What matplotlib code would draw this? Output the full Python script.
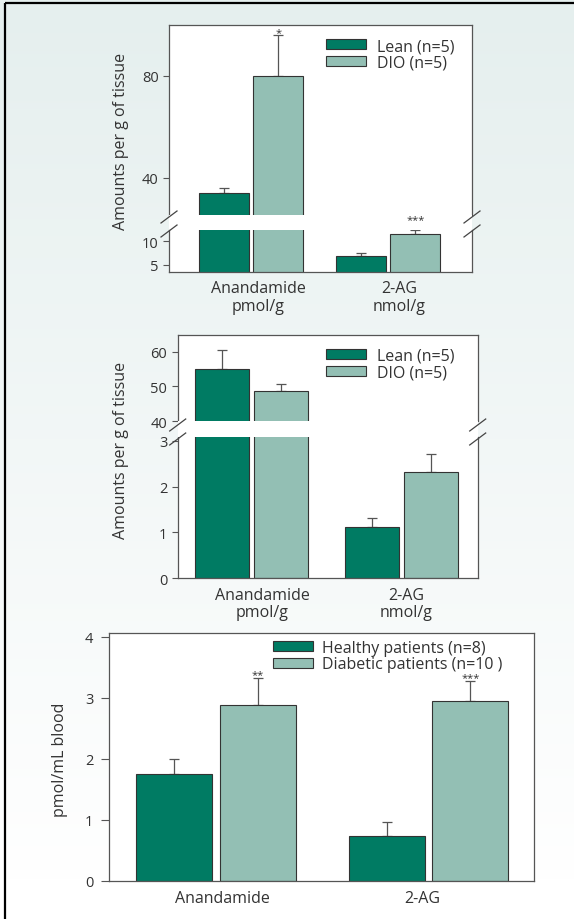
import matplotlib
matplotlib.use("Agg")
import matplotlib.pyplot as plt
import numpy as np
from matplotlib.lines import Line2D
from matplotlib.patches import Rectangle

plt.rcParams["font.family"] = ["Open Sans", "DejaVu Sans"]

W, H = 574, 920

compounds = ["Anandamide", "2-AG"]
tissue_units = ["pmol/g", "nmol/g"]
obese_labels = ["Lean (n=5)", "DIO (n=5)"]
patient_labels = ["Healthy patients (n=8)", "Diabetic patients (n=10 )"]

# top panel
top_lean = [33.9, 6.9]
top_lean_err = [2.1, 0.65]
top_dio = [80.0, 11.6]
top_dio_err = [16.0, 0.8]
top_stars = ["*", "***"]

# middle panel
mid_lean = [55.1, 1.11]
mid_lean_err = [5.4, 0.2]
mid_dio = [48.6, 2.32]
mid_dio_err = [2.2, 0.38]

# bottom panel (blood)
bot_healthy = [1.745, 0.733]
bot_healthy_err = [0.255, 0.235]
bot_diabetic = [2.88, 2.95]
bot_diabetic_err = [0.44, 0.32]
bot_stars = ["**", "***"]

DARK = "#007b63"
LIGHT = "#93bfb4"
EDGE = "#333333"
SPINE = "#555555"
TEXT = "#333333"


def frect(x0, y0, x1, y1):
    return [x0 / W, 1 - y1 / H, (x1 - x0) / W, (y1 - y0) / H]


def style_axes(ax, length=4.5, pad=3, xpad=6):
    for s in ax.spines.values():
        s.set_color(SPINE)
        s.set_linewidth(0.9)
    ax.tick_params(axis="y", direction="out", length=length, width=0.8,
                   color=SPINE, labelcolor=TEXT, labelsize=10.5, pad=pad)
    ax.tick_params(axis="x", length=0, labelcolor=TEXT, labelsize=11.5, pad=xpad)
    ax.set_facecolor("white")


def draw_pairs(ax, v1, e1, v2, e2, width, off=0.197):
    x = np.arange(len(v1))
    b1 = ax.bar(x - off, v1, width, color=DARK, edgecolor=EDGE, linewidth=0.8, zorder=2)
    b2 = ax.bar(x + off, v2, width, color=LIGHT, edgecolor=EDGE, linewidth=0.8, zorder=2)
    for xs, v, e in ((x - off, v1, e1), (x + off, v2, e2)):
        ax.errorbar(xs, v, yerr=[np.zeros(len(e)), e], fmt="none", ecolor="#555555",
                    elinewidth=0.9, capsize=3.5, capthick=0.9, zorder=1)
    return b1, b2


def add_stars(ax, xs, tops, stars, offsets):
    for x, t, s, dy in zip(xs, tops, stars, offsets):
        ax.annotate(s, xy=(x, t), xytext=(0, dy), textcoords="offset points",
                    ha="center", va="baseline", fontsize=8, color=TEXT,
                    annotation_clip=False, zorder=5)


def broken_marks(fig, xl, xr, yc):
    for x in (xl, xr):
        for y in (yc - 7, yc + 7):
            fig.add_artist(Line2D([(x - 8) / W, (x + 8) / W],
                                  [1 - (y + 6) / H, 1 - (y - 6) / H],
                                  color="#444444", lw=0.9, zorder=10))


def legend(ax, handles, labels, x, y, textpad=0.7):
    ax.legend(handles, labels, loc="upper left", bbox_to_anchor=(x / W, 1 - y / H),
              bbox_transform=fig.transFigure, frameon=False, fontsize=11.5,
              handlelength=2.5, handleheight=0.6, handletextpad=textpad,
              labelspacing=0.02, borderpad=0, borderaxespad=0, labelcolor=TEXT)


fig = plt.figure(figsize=(W / 100, H / 100), dpi=100)

# background gradient
bg = fig.add_axes([0, 0, 1, 1], zorder=-10)
bg.axis("off")
rows = np.arange(H)
t = np.clip(rows / 880.0, 0, 1)[:, None]
topc = np.array([229, 239, 238]) / 255.0
grad = topc * (1 - t) + np.ones(3) * t
bg.imshow(grad[:, None, :], aspect="auto", extent=[0, 1, 0, 1])
fig.add_artist(Line2D([5 / W, 5 / W], [1 - 4 / H, 0], color="black", lw=1.6,
                      solid_capstyle="butt"))
fig.add_artist(Line2D([5 / W, 1.01], [1 - 4 / H, 1 - 4 / H], color="black", lw=1.6,
                      solid_capstyle="butt"))

# ---------- top panel ----------
x0, x1 = 169, 472
ax1u = fig.add_axes(frect(x0, 25.7, x1, 216))
ax1l = fig.add_axes(frect(x0, 230.7, x1, 273))
ax1l.set_zorder(1)
for ax in (ax1u, ax1l):
    style_axes(ax)
    hb = draw_pairs(ax, top_lean, top_lean_err, top_dio, top_dio_err, 0.365)
    ax.set_xlim(-0.60, 1.61)
ax1u.set_ylim(25.4, 100)
ax1u.set_yticks([40, 80])
ax1u.set_xticks([])
ax1u.spines["bottom"].set_visible(False)
ax1l.set_ylim(3.44, 12.5)
ax1l.set_yticks([5, 10])
ax1l.spines["top"].set_visible(False)
ax1l.set_xticks([0.05, 1.08], [f"{c}\n{u}" for c, u in zip(compounds, tissue_units)],
                linespacing=1.15)
fig.add_artist(Rectangle((x0 / W, 1 - 230.7 / H), (x1 - x0) / W, 14.7 / H,
                         transform=fig.transFigure, facecolor="white", edgecolor="none",
                         zorder=0.5))
broken_marks(fig, x0, x1, 225)
add_stars(ax1u, [0.197], [top_dio[0] + top_dio_err[0]], top_stars[:1], [0.0])
add_stars(ax1l, [1.197], [top_dio[1] + top_dio_err[1]], top_stars[1:], [6.0])
legend(ax1u, hb, obese_labels, 325.7, 39)
fig.text(120.7 / W, 1 - 141.7 / H, "Amounts per g of tissue", rotation=90,
         ha="center", va="center", fontsize=11.5, color=TEXT)

# ---------- middle panel ----------
x0, x1 = 177.7, 477.7
ax2u = fig.add_axes(frect(x0, 335.7, x1, 422))
ax2l = fig.add_axes(frect(x0, 438, x1, 579.3))
for ax in (ax2u, ax2l):
    style_axes(ax)
    hb = draw_pairs(ax, mid_lean, mid_lean_err, mid_dio, mid_dio_err, 0.363)
    ax.set_xlim(-0.492, 1.508)
ax2u.set_ylim(40, 65)
ax2u.set_yticks([40, 50, 60])
ax2u.set_xticks([])
ax2u.spines["bottom"].set_visible(False)
ax2l.set_ylim(0, 3.08)
ax2l.set_yticks([0, 1, 2, 3])
ax2l.spines["top"].set_visible(False)
ax2l.set_xticks([0.07, 1.03], [f"{c}\n{u}" for c, u in zip(compounds, tissue_units)],
                linespacing=1.15)
fig.add_artist(Rectangle((x0 / W, 1 - 438 / H), (x1 - x0) / W, 16 / H,
                         transform=fig.transFigure, facecolor="white", edgecolor="none",
                         zorder=0.5))
broken_marks(fig, x0, x1, 433)
legend(ax2u, hb, obese_labels, 325.7, 349)
fig.text(120.7 / W, 1 - 450 / H, "Amounts per g of tissue", rotation=90,
         ha="center", va="center", fontsize=11.5, color=TEXT)

# ---------- bottom panel ----------
ax3 = fig.add_axes(frect(109.3, 634, 534.3, 881.7))
style_axes(ax3, length=5.5, pad=6, xpad=7)
hb = draw_pairs(ax3, bot_healthy, bot_healthy_err, bot_diabetic, bot_diabetic_err, 0.357)
ax3.set_xlim(-0.5, 1.497)
ax3.set_ylim(0, 4.06)
ax3.set_yticks([0, 1, 2, 3, 4])
ax3.set_xticks([0.03, 0.97], compounds)
add_stars(ax3, [0.197, 1.197],
          [v + e for v, e in zip(bot_diabetic, bot_diabetic_err)], bot_stars, [1.0, 0.5])
legend(ax3, hb, patient_labels, 273.3, 641, textpad=0.55)
fig.text(60 / W, 1 - 760 / H, "pmol/mL blood", rotation=90,
         ha="center", va="center", fontsize=11.5, color=TEXT)

fig.savefig("out.png", dpi=100)
